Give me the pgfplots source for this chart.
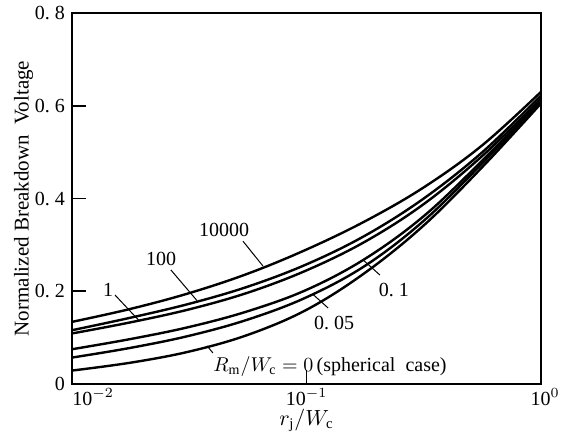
\documentclass[border=0pt]{standalone}
\usepackage{fontspec}
\setmainfont{Liberation Serif}
\usepackage{pgfplots}
\pgfplotsset{compat=1.18}
\usepackage{pgfplotstable}

% x = r_j/W_c ; one column per R_m/W_c
\pgfplotstableread{
x       r10000 r100  r1    r01   r005  r0
0.01    0.134  0.116 0.109 0.075 0.057 0.029
0.01778 0.162  0.143 0.133 0.097 0.078 0.046
0.03162 0.196  0.173 0.161 0.123 0.104 0.070
0.05623 0.238  0.210 0.197 0.157 0.139 0.106
0.1     0.290  0.258 0.245 0.203 0.187 0.160
0.1778  0.351  0.320 0.307 0.270 0.255 0.240
0.3162  0.424  0.400 0.388 0.362 0.352 0.342
0.5623  0.515  0.500 0.492 0.482 0.476 0.468
1       0.630  0.622 0.615 0.611 0.608 0.605
}\bvdata

\pgfplotsset{curve/.style={black, line width=1.2pt, smooth, tension=0.6, no marks}}

\begin{document}
\begin{tikzpicture}
\useasboundingbox (-36pt,-25.5pt) rectangle (244.5pt,192pt);
\begin{axis}[
    scale only axis,
    width=234.5pt,
    height=185.5pt,
    xmode=log,
    xmin=0.01, xmax=1,
    ymin=0, ymax=0.8,
    xtick={0.01,0.1,1},
    xticklabels={},
    ytick={0,0.2,0.4,0.6,0.8},
    yticklabels={0,0.\ 2,0.\ 4,0.\ 6,0.\ 8},
    xminorticks=false,
    tick align=inside,
    xtick pos=bottom,
    ytick pos=left,
    major tick length=7pt,
    tick style={line width=0.8pt, black},
    axis line style={line width=1pt},
    ticklabel style={font=\fontsize{10}{12}\selectfont},
    xlabel={$r_{\mathrm{j}}/W_{\mathrm{c}}$},
    ylabel={Normalized\ Breakdown\ \ Voltage},
    label style={font=\fontsize{10.5}{12}\selectfont},
    xlabel style={at={(axis description cs:0.5,0)}, anchor=base, yshift=-20.5pt},
    ylabel style={yshift=-6pt},
    clip=false,
]
\addplot[curve] table[x=x, y=r10000] {\bvdata};
\addplot[curve] table[x=x, y=r100] {\bvdata};
\addplot[curve] table[x=x, y=r1] {\bvdata};
\addplot[curve] table[x=x, y=r01] {\bvdata};
\addplot[curve] table[x=x, y=r005] {\bvdata};
\addplot[curve] table[x=x, y=r0] {\bvdata};

\begin{scope}[font=\fontsize{10}{12}\selectfont]
% x tick labels
\node[anchor=base west, inner sep=0pt] at ([yshift=-10.5pt]axis cs:0.01,0) {10$^{-2}$};
\node[anchor=base, inner sep=0pt] at ([yshift=-10.5pt]axis cs:0.1,0) {10$^{-1}$};
\node[anchor=base, inner sep=0pt] at ([yshift=-10.5pt,xshift=2pt]axis cs:1,0) {10$^{0}$};
% curve labels
\node at (axis cs:0.0445,0.332) {10000};
\draw[line width=0.5pt] (axis cs:0.0536,0.308) -- (axis cs:0.0653,0.254);
\node at (axis cs:0.0240,0.270) {100};
\draw[line width=0.5pt] (axis cs:0.0264,0.246) -- (axis cs:0.0341,0.180);
\node at (axis cs:0.01426,0.203) {1};
\draw[line width=0.5pt] (axis cs:0.01525,0.192) -- (axis cs:0.0193,0.137);
\node at (axis cs:0.236,0.203) {0.\ 1};
\draw[line width=0.5pt] (axis cs:0.2056,0.235) -- (axis cs:0.174,0.268);
\node at (axis cs:0.131,0.132) {0.\ 05};
\draw[line width=0.5pt] (axis cs:0.1236,0.164) -- (axis cs:0.1067,0.193);
\node at (axis cs:0.126,0.037) {$R_{\mathrm{m}}/W_{\mathrm{c}}=0$\,(spherical\ \ case)};
\draw[line width=0.5pt] (axis cs:0.0377,0.082) -- (axis cs:0.0399,0.067);
\end{scope}
\end{axis}
\end{tikzpicture}
\end{document}
